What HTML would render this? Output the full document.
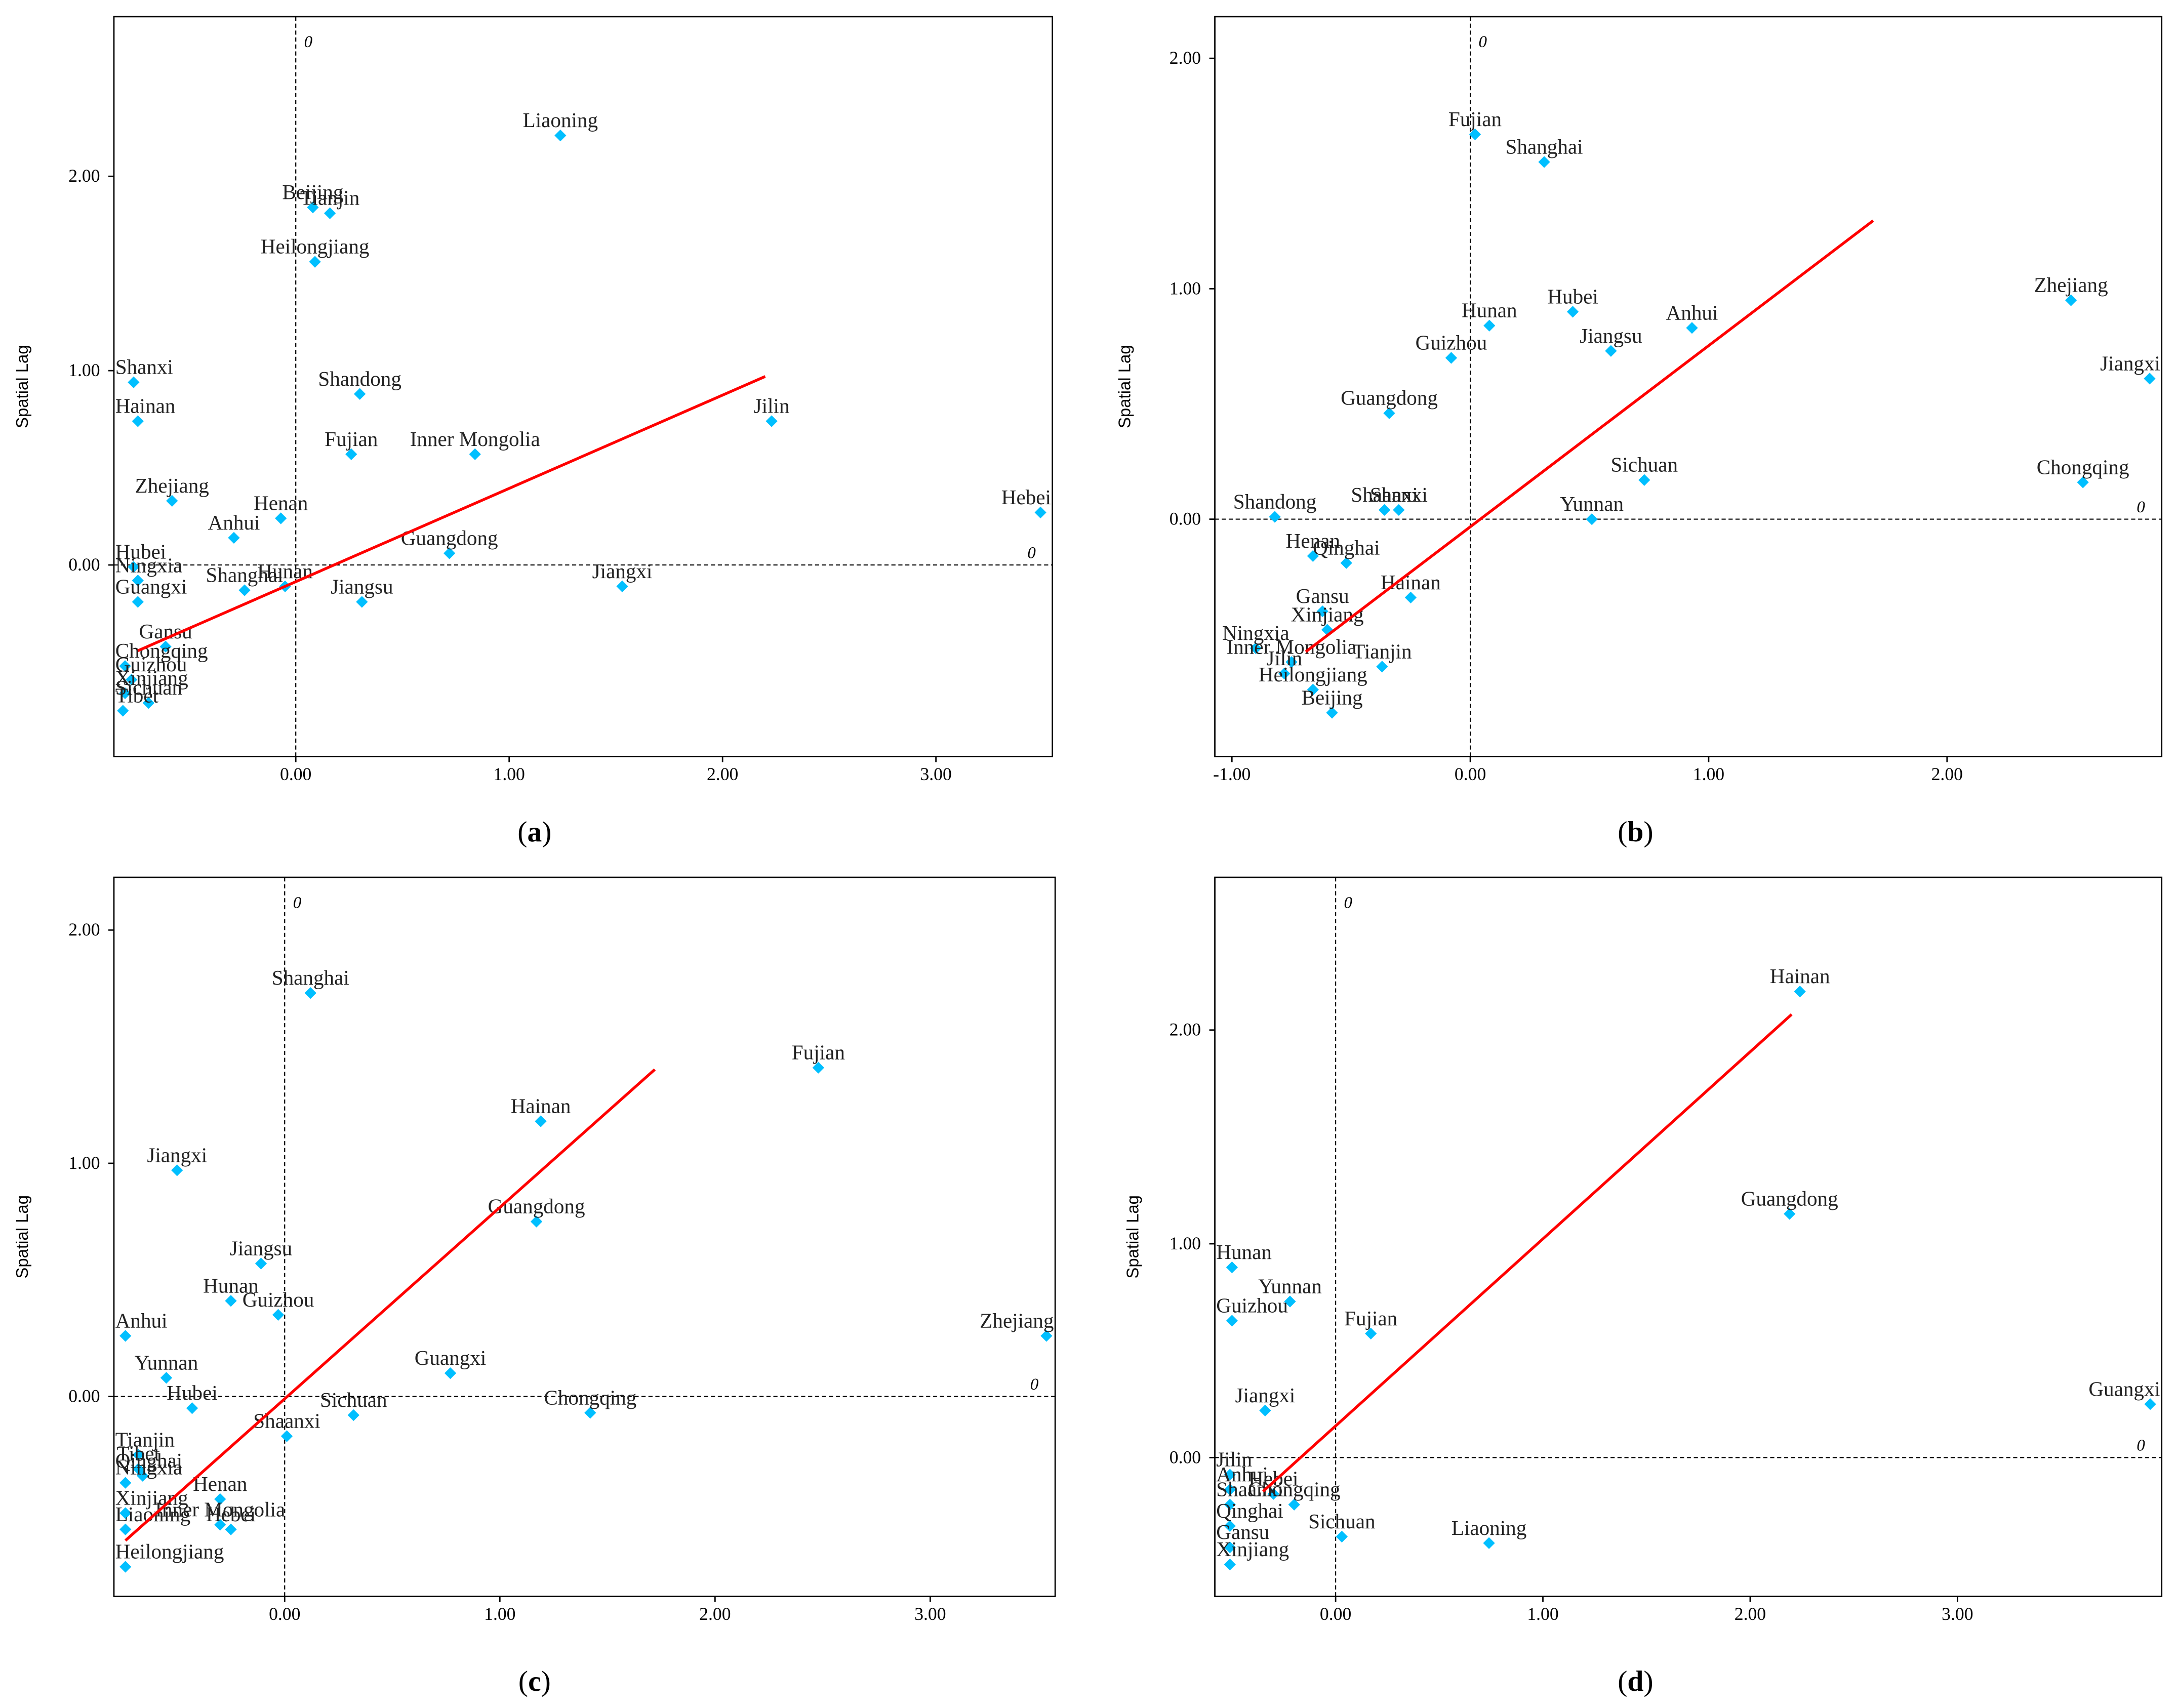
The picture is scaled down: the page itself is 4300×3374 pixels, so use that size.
<!DOCTYPE html>
<html><head><meta charset="utf-8">
<style>
html,body{margin:0;padding:0;background:#fff;}
svg{display:block;}
</style></head>
<body>
<svg id="chart" width="4300" height="3374" viewBox="0 0 1568 1230.4" xmlns="http://www.w3.org/2000/svg" font-family="'Liberation Serif', serif"></svg>
<script>
// ---- Panel (a) data ----
const aNames=["Liaoning","Beijing","Tianjin","Heilongjiang","Shanxi","Hainan","Shandong","Jilin","Fujian","Inner Mongolia","Zhejiang","Henan","Anhui","Hebei","Guangdong","Hubei","Ningxia","Shanghai","Hunan","Jiangxi","Guangxi","Jiangsu","Gansu","Chongqing","Guizhou","Xinjiang","Sichuan","Tibet"];
const aX=[1.24,0.08,0.16,0.09,-0.76,-0.74,0.30,2.23,0.26,0.84,-0.58,-0.07,-0.29,3.49,0.72,-0.76,-0.74,-0.24,-0.05,1.53,-0.74,0.31,-0.61,-0.80,-0.77,-0.80,-0.69,-0.81];
const aY=[2.21,1.84,1.81,1.56,0.94,0.74,0.88,0.74,0.57,0.57,0.33,0.24,0.14,0.27,0.06,-0.01,-0.08,-0.13,-0.11,-0.11,-0.19,-0.19,-0.42,-0.52,-0.59,-0.66,-0.71,-0.75];
const aXTicks=["0.00","1.00","2.00","3.00"];
const aXTickVals=[0,1,2,3];
const aYTicks=["0.00","1.00","2.00"];
const aYTickVals=[0,1,2];
const aFit=[-0.74,2.20];
const aSlope=[0.48,-0.086];

// ---- Panel (b) data ----
const bNames=["Fujian","Shanghai","Hunan","Hubei","Anhui","Guizhou","Jiangsu","Zhejiang","Jiangxi","Guangdong","Sichuan","Chongqing","Shandong","Shaanxi","Shanxi","Yunnan","Henan","Qinghai","Hainan","Gansu","Xinjiang","Ningxia","Inner Mongolia","Jilin","Heilongjiang","Tianjin","Beijing"];
const bX=[0.02,0.31,0.08,0.43,0.93,-0.08,0.59,2.52,2.85,-0.34,0.73,2.57,-0.82,-0.36,-0.30,0.51,-0.66,-0.52,-0.25,-0.62,-0.60,-0.90,-0.75,-0.78,-0.66,-0.37,-0.58];
const bY=[1.67,1.55,0.84,0.90,0.83,0.70,0.73,0.95,0.61,0.46,0.17,0.16,0.01,0.04,0.04,0.00,-0.16,-0.19,-0.34,-0.40,-0.48,-0.56,-0.62,-0.67,-0.74,-0.64,-0.84];
const bXTicks=["-1.00","0.00","1.00","2.00"];
const bXTickVals=[-1,0,1,2];
const bYTicks=["0.00","1.00","2.00"];
const bYTickVals=[0,1,2];
const bFit=[-0.69,1.69];
const bSlope=[0.786,-0.033];

// ---- Panel (c) data ----
const cNames=["Shanghai","Fujian","Hainan","Jiangxi","Guangdong","Jiangsu","Hunan","Guizhou","Zhejiang","Anhui","Yunnan","Guangxi","Hubei","Sichuan","Chongqing","Shaanxi","Tianjin","Tibet","Qinghai","Ningxia","Henan","Xinjiang","Inner Mongolia","Liaoning","Hebei","Heilongjiang"];
const cX=[0.12,2.48,1.19,-0.50,1.17,-0.11,-0.25,-0.03,3.54,-0.74,-0.55,0.77,-0.43,0.32,1.42,0.01,-0.68,-0.68,-0.66,-0.74,-0.30,-0.74,-0.30,-0.74,-0.25,-0.74];
const cY=[1.73,1.41,1.18,0.97,0.75,0.57,0.41,0.35,0.26,0.26,0.08,0.10,-0.05,-0.08,-0.07,-0.17,-0.25,-0.31,-0.34,-0.37,-0.44,-0.50,-0.55,-0.57,-0.57,-0.73];
const cXTicks=["0.00","1.00","2.00","3.00"];
const cXTickVals=[0,1,2,3];
const cYTicks=["0.00","1.00","2.00"];
const cYTickVals=[0,1,2];
const cFit=[-0.74,1.72];
const cSlope=[0.821,-0.01];

// ---- Panel (d) data ----
const dNames=["Hainan","Guangdong","Hunan","Yunnan","Guizhou","Fujian","Jiangxi","Guangxi","Jilin","Anhui","Hebei","Shaanxi","Chongqing","Qinghai","Sichuan","Gansu","Liaoning","Xinjiang"];
const dX=[2.24,2.19,-0.50,-0.22,-0.50,0.17,-0.34,3.93,-0.51,-0.51,-0.30,-0.51,-0.20,-0.51,0.03,-0.51,0.74,-0.51];
const dY=[2.18,1.14,0.89,0.73,0.64,0.58,0.22,0.25,-0.08,-0.15,-0.17,-0.22,-0.22,-0.32,-0.37,-0.42,-0.40,-0.50];
const dXTicks=["0.00","1.00","2.00","3.00"];
const dXTickVals=[0,1,2,3];
const dYTicks=["0.00","1.00","2.00"];
const dYTickVals=[0,1,2];
const dFit=[-0.35,2.20];
const dSlope=[0.875,0.148];

const NS="http://www.w3.org/2000/svg";
const svg=document.getElementById('chart');
function mk(tag,attrs,parent){const e=document.createElementNS(NS,tag);for(const k in attrs)e.setAttribute(k,attrs[k]);(parent||svg).appendChild(e);return e;}

function panel(id,box,x0,xs,y0,ys,names,X,Y,xt,xtv,yt,ytv,fit,slope,titleX,capX,capY){
  const g=mk('g',{});
  
  
  const sx=v=>x0+v*xs, sy=v=>y0-v*ys;
  const fr=mk('rect',{x:box[0],y:box[1],width:box[2]-box[0],height:box[3]-box[1],fill:'none',stroke:'#000','stroke-width':1},g);
  
  
  const vl=mk('line',{x1:sx(0),x2:sx(0),y1:box[1],y2:box[3],stroke:'#000','stroke-width':0.8,'stroke-dasharray':'3,2'},g);
  
  
  const hl=mk('line',{x1:box[0],x2:box[2],y1:sy(0),y2:sy(0),stroke:'#000','stroke-width':0.8,'stroke-dasharray':'3,2'},g);
  
  
  let t=mk('text',{x:sx(0)+6,y:box[1]+22,'font-size':12,'font-style':'italic'},g);t.textContent='0';
  
  
  t=mk('text',{x:box[2]-18,y:sy(0)-5,'font-size':12,'font-style':'italic'},g);t.textContent='0';
  
  
  xt.forEach((lab,i)=>{
    const x=sx(xtv[i]);
    mk('line',{x1:x,x2:x,y1:box[3],y2:box[3]+4,stroke:'#000'},g);
    const e=mk('text',{x:x,y:box[3]+17,'font-size':13,'text-anchor':'middle'},g);e.textContent=lab;
    
    
  });
  yt.forEach((lab,i)=>{
    const y=sy(ytv[i]);
    mk('line',{x1:box[0]-4,x2:box[0],y1:y,y2:y,stroke:'#000'},g);
    const e=mk('text',{x:box[0]-10,y:y+4,'font-size':13,'text-anchor':'end'},g);e.textContent=lab;
    
    
  });
  const yl=mk('text',{x:titleX,y:(box[1]+box[3])/2,'font-size':12,'font-family':"'Liberation Sans', sans-serif",'text-anchor':'middle',transform:`rotate(-90 ${titleX} ${(box[1]+box[3])/2})`},g);
  yl.textContent='Spatial Lag';
  
  
  names.forEach((n,i)=>{
    const px=sx(X[i]),py=sy(Y[i]);
    const p=mk('rect',{x:px-3,y:py-3,width:6,height:6,fill:'#00BFFF',transform:`rotate(45 ${px} ${py})`},g);
    
    
    const lb=mk('text',{x:px,y:py-6,'font-size':15,'text-anchor':'middle',fill:'#222'},g);lb.textContent=n;
    
    
    const w=lb.getComputedTextLength ? lb.getComputedTextLength() : n.length*7;
    let cx=px;
    if(cx-w/2<box[0]+1) cx=box[0]+1+w/2;
    if(cx+w/2>box[2]-1) cx=box[2]-1-w/2;
    lb.setAttribute('x',cx);
  });
  const fl=mk('line',{x1:sx(fit[0]),y1:sy(slope[1]+slope[0]*fit[0]),x2:sx(fit[1]),y2:sy(slope[1]+slope[0]*fit[1]),stroke:'#FF0000','stroke-width':2},g);
  
  
  const cap=mk('text',{x:capX,y:capY,'font-size':21,'text-anchor':'middle'},g);
  cap.innerHTML='(<tspan font-weight="bold">'+id+'</tspan>)';
  
  
}
panel('a',[82,12,758,545],213,153.7,407,140,aNames,aX,aY,aXTicks,aXTickVals,aYTicks,aYTickVals,aFit,aSlope,20,385,606);
panel('b',[875,12,1557,545],1059,171.7,374,166,bNames,bX,bY,bXTicks,bXTickVals,bYTicks,bYTickVals,bFit,bSlope,814,1178,606);
panel('c',[82,632,760,1150],205,155,1006,168,cNames,cX,cY,cXTicks,cXTickVals,cYTicks,cYTickVals,cFit,cSlope,20,385,1218);
panel('d',[875,632,1557,1150],962,149.3,1050,154,dNames,dX,dY,dXTicks,dXTickVals,dYTicks,dYTickVals,dFit,dSlope,820,1178,1218);
</script>
</body></html>
